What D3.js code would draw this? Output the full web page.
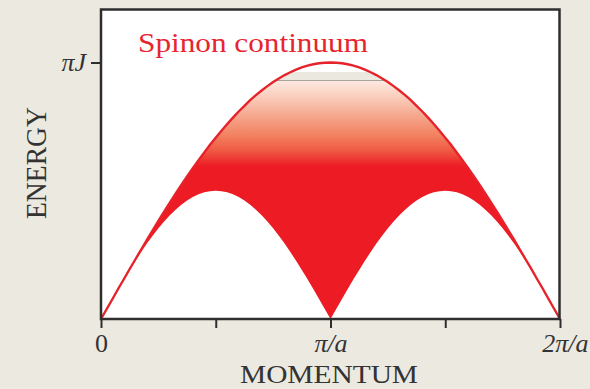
<!DOCTYPE html>
<html>
<head>
<meta charset="utf-8">
<script src="https://cdn.jsdelivr.net/npm/d3@7"></script>
<style>
  html, body { margin: 0; padding: 0; background: #ECE9E0; }
  svg { display: block; }
  text { font-family: "Liberation Serif", "DejaVu Serif", serif; }
</style>
</head>
<body>
<svg id="chart" width="590" height="389"></svg>
<script>
// Momentum samples, in units of pi/a (0 .. 2, step 1/40)
const momentum = d3.range(0, 81).map(i => i / 40);

// Upper boundary of the two-spinon continuum, in units of pi*J
const upperHalf = [0, .039, .078, .118, .156, .195, .233, .271, .309, .346, .383, .419, .454, .489, .523,
  .556, .588, .619, .649, .679, .707, .734, .760, .785, .809, .831, .853, .873, .891, .908, .924, .938,
  .951, .962, .972, .981, .988, .993, .997, .999, 1];
const upperEdge = upperHalf.concat(upperHalf.slice(0, 40).reverse());

// Lower boundary (des Cloizeaux-Pearson branch), in units of pi*J
const lowerArch = [0, .0392, .0782, .1167, .1545, .1913, .2270, .2612, .2939, .3247, .3536, .3802, .4045,
  .4263, .4455, .4619, .4755, .4862, .4938, .4985, .5];
const lowerOne = lowerArch.concat(lowerArch.slice(0, 20).reverse());
const lowerEdge = lowerOne.concat(lowerOne.slice(1));

// Axis ticks
const xTickValues = [0, 0.5, 1, 1.5, 2];
const xTickLabels = ["0", "", "\u03C0/a", "", "2\u03C0/a"];
const yTickValues = [1];
const yTickLabels = ["\u03C0J"];

const rows = momentum.map((k, i) => ({ k, lo: lowerEdge[i], hi: upperEdge[i] }));

const svg = d3.select("#chart");
const x = d3.scaleLinear().domain([0, 2]).range([101, 560]);
const y = d3.scaleLinear().domain([0, 1]).range([319, 62.5]);

// plot background
svg.append("rect").attr("x", 101).attr("y", 9.5).attr("width", 458.5).attr("height", 309.5).attr("fill", "#fff");

const defs = svg.append("defs");
const grad = defs.append("linearGradient")
  .attr("id", "fade").attr("gradientUnits", "userSpaceOnUse")
  .attr("x1", 0).attr("x2", 0).attr("y1", 80).attr("y2", 166);
[[0, "#FDEAE2"], [0.2, "#F9CDBB"], [0.45, "#F5A186"], [0.65, "#F2805F"], [0.82, "#EF5A44"], [1, "#ED1C24"]]
  .forEach(([o, c]) => grad.append("stop").attr("offset", o).attr("stop-color", c));

const band = d3.area().x(d => x(d.k)).y0(d => y(d.lo)).y1(d => y(d.hi));
defs.append("clipPath").attr("id", "cont").append("path").attr("d", band(rows));

const g = svg.append("g").attr("clip-path", "url(#cont)");
g.append("rect").attr("x", 90).attr("y", 80).attr("width", 480).attr("height", 250).attr("fill", "url(#fade)");
g.append("rect").attr("x", 90).attr("y", 72).attr("width", 480).attr("height", 8).attr("fill", "#EBE8DF");
g.append("line").attr("x1", 90).attr("x2", 570).attr("y1", 80.5).attr("y2", 80.5)
  .attr("stroke", "#A8A29C").attr("stroke-width", 1);

// upper boundary line
svg.append("path").datum(rows)
  .attr("d", d3.line().x(d => x(d.k)).y(d => y(d.hi)))
  .attr("fill", "none").attr("stroke", "#E6232B").attr("stroke-width", 2.4);

// frame
svg.append("rect").attr("x", 101).attr("y", 9.5).attr("width", 458.5).attr("height", 309.5)
  .attr("fill", "none").attr("stroke", "#2E2E2E").attr("stroke-width", 2.5);

// x axis
const xAxis = d3.axisBottom(x).tickValues(xTickValues)
  .tickFormat((d, i) => xTickLabels[i]).tickSize(9).tickPadding(6);
const gx = svg.append("g").attr("transform", "translate(0,319)").call(xAxis);
gx.select(".domain").remove();
gx.selectAll("line").attr("stroke", "#2E2E2E").attr("stroke-width", 2);
gx.selectAll("text").attr("fill", "#333").attr("font-size", 26).attr("font-style", "italic");
gx.selectAll("text").filter((d, i) => i === 0).attr("font-style", "normal");
gx.selectAll("text").filter((d, i) => i === 4).attr("text-anchor", "end").attr("dx", 28);

// y axis
const yAxis = d3.axisLeft(y).tickValues(yTickValues)
  .tickFormat((d, i) => yTickLabels[i]).tickSize(10).tickPadding(5);
const gy = svg.append("g").attr("transform", "translate(101,0)").call(yAxis);
gy.select(".domain").remove();
gy.selectAll("line").attr("stroke", "#2E2E2E").attr("stroke-width", 2);
gy.selectAll("text").attr("fill", "#333").attr("font-size", 26).attr("font-style", "italic");

// titles
svg.append("text").attr("x", 138).attr("y", 52).attr("fill", "#E8242D")
  .attr("font-size", 28).attr("textLength", 230).attr("lengthAdjust", "spacingAndGlyphs")
  .text("Spinon continuum");
svg.append("text").attr("x", 329).attr("y", 382.5).attr("text-anchor", "middle").attr("fill", "#333")
  .attr("font-size", 26).attr("textLength", 178).attr("lengthAdjust", "spacingAndGlyphs")
  .text("MOMENTUM");
svg.append("text").attr("transform", "translate(46,163) rotate(-90)").attr("text-anchor", "middle")
  .attr("fill", "#333").attr("font-size", 29).attr("textLength", 112).attr("lengthAdjust", "spacingAndGlyphs")
  .text("ENERGY");
</script>
</body>
</html>
